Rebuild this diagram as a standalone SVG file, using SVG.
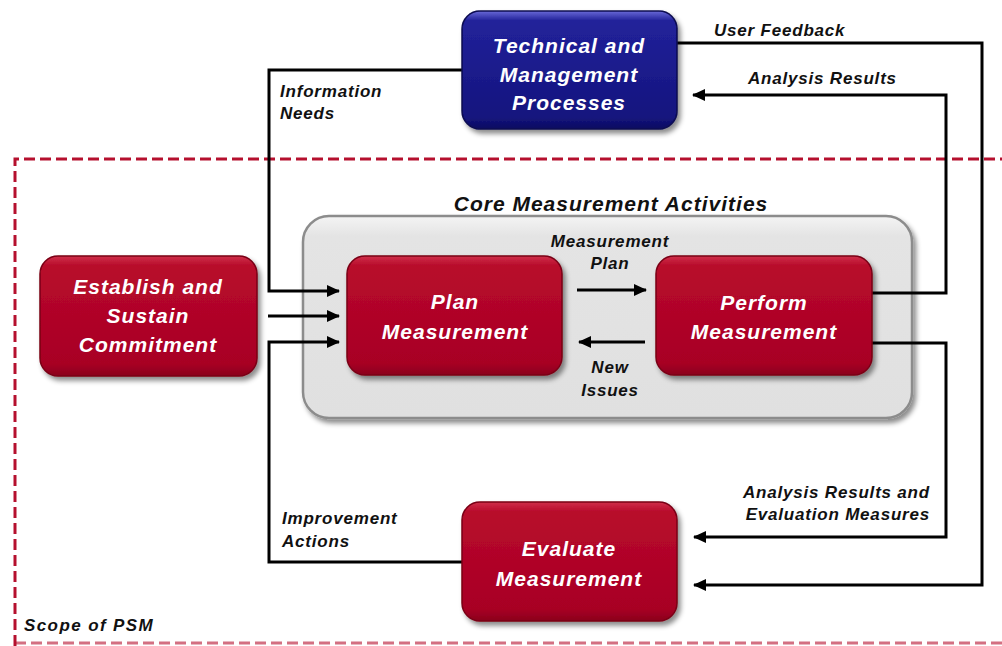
<svg xmlns="http://www.w3.org/2000/svg" width="1002" height="646" viewBox="0 0 1002 646">
  <defs>
    <linearGradient id="redFill" x1="0" y1="0" x2="0" y2="1">
      <stop offset="0" stop-color="#d0324a"/>
      <stop offset="0.08" stop-color="#b80a2c"/>
      <stop offset="0.9" stop-color="#a80024"/>
      <stop offset="1" stop-color="#8a001c"/>
    </linearGradient>
    <linearGradient id="blueFill" x1="0" y1="0" x2="0" y2="1">
      <stop offset="0" stop-color="#6a6ad8"/>
      <stop offset="0.08" stop-color="#22229a"/>
      <stop offset="0.9" stop-color="#14147e"/>
      <stop offset="1" stop-color="#0c0c60"/>
    </linearGradient>
    <linearGradient id="greyFill" x1="0" y1="0" x2="0" y2="1">
      <stop offset="0" stop-color="#f4f4f4"/>
      <stop offset="0.1" stop-color="#e4e4e4"/>
      <stop offset="1" stop-color="#e0e0e0"/>
    </linearGradient>
    <filter id="shadow" x="-10%" y="-10%" width="125%" height="130%">
      <feDropShadow dx="3" dy="4" stdDeviation="2.5" flood-color="#000" flood-opacity="0.45"/>
    </filter>
    <marker id="arrow" markerUnits="userSpaceOnUse" markerWidth="13" markerHeight="12" refX="12" refY="6" orient="auto">
      <path d="M0,0 L13,6 L0,12 Z" fill="#000"/>
    </marker>
    <style>
      .box-red { fill: url(#redFill); stroke: #7a0016; stroke-width: 1.5; filter: url(#shadow); }
      .box-blue { fill: url(#blueFill); stroke: #0a0a50; stroke-width: 1.5; filter: url(#shadow); }
      .core { fill: url(#greyFill); stroke: #8c8c8c; stroke-width: 2.5; filter: url(#shadow); }
      .box-text { font-family: "Liberation Sans", Arial, sans-serif; font-style: italic; font-weight: bold; font-size: 21px; fill: #fff; text-anchor: middle; letter-spacing: 1px; }
      .label { font-family: "Liberation Sans", Arial, sans-serif; font-style: italic; font-weight: bold; font-size: 17px; fill: #111; letter-spacing: 0.8px; }
      .title { font-family: "Liberation Sans", Arial, sans-serif; font-style: italic; font-weight: bold; font-size: 21px; fill: #111; text-anchor: middle; letter-spacing: 1px; }
      .conn { fill: none; stroke: #000; stroke-width: 3; }
      .scope { fill: none; stroke: #b5102e; stroke-width: 3; stroke-dasharray: 11 5; }
    </style>
  </defs>

  <rect width="1002" height="646" fill="#fff"/>

  <!-- PSM scope boundary -->
  <g id="scope">
    <path class="scope" d="M15,646 V159 H1002"/>
    <path class="scope" d="M15,643 H1002" opacity="0.6"/>
    <text class="label" x="24" y="631" style="letter-spacing:1.4px">Scope of PSM</text>
  </g>

  <!-- Core activities container -->
  <g id="core">
    <rect class="core" x="303" y="216" width="609" height="202" rx="26"/>
    <text class="title" x="611" y="211">Core Measurement Activities</text>
  </g>

  <!-- Connectors -->
  <g id="connectors">
    <path class="conn" d="M462,70 H269 V291 H339" marker-end="url(#arrow)"/>
    <path class="conn" d="M268,316 H339" marker-end="url(#arrow)"/>
    <path class="conn" d="M462,562 H269 V342 H339" marker-end="url(#arrow)"/>
    <path class="conn" d="M577,290 H646" marker-end="url(#arrow)"/>
    <path class="conn" d="M645,342 H579" marker-end="url(#arrow)"/>
    <path class="conn" d="M872,293 H946 V95 H693" marker-end="url(#arrow)"/>
    <path class="conn" d="M677,43 H982 V585 H694" marker-end="url(#arrow)"/>
    <path class="conn" d="M872,343 H946 V537 H694" marker-end="url(#arrow)"/>

    <text class="label" x="714" y="36">User Feedback</text>
    <text class="label" x="748" y="84">Analysis Results</text>
    <text class="label" x="280" y="97">Information</text>
    <text class="label" x="280" y="119">Needs</text>
    <text class="label" x="610" y="247" text-anchor="middle">Measurement</text>
    <text class="label" x="610" y="269" text-anchor="middle">Plan</text>
    <text class="label" x="610" y="373" text-anchor="middle">New</text>
    <text class="label" x="610" y="396" text-anchor="middle">Issues</text>
    <text class="label" x="282" y="524">Improvement</text>
    <text class="label" x="282" y="547">Actions</text>
    <text class="label" x="930" y="498" text-anchor="end">Analysis Results and</text>
    <text class="label" x="930" y="520" text-anchor="end">Evaluation Measures</text>
  </g>

  <!-- Nodes -->
  <g id="technical-management">
    <rect class="box-blue" x="462" y="11" width="215" height="118" rx="18"/>
    <text class="box-text" x="569" y="53">Technical and</text>
    <text class="box-text" x="569" y="82">Management</text>
    <text class="box-text" x="569" y="110">Processes</text>
  </g>

  <g id="establish-commitment">
    <rect class="box-red" x="40" y="256" width="217" height="120" rx="18"/>
    <text class="box-text" x="148" y="294">Establish and</text>
    <text class="box-text" x="148" y="323">Sustain</text>
    <text class="box-text" x="148" y="352">Commitment</text>
  </g>

  <g id="plan-measurement">
    <rect class="box-red" x="347" y="256" width="215" height="119" rx="18"/>
    <text class="box-text" x="455" y="309">Plan</text>
    <text class="box-text" x="455" y="339">Measurement</text>
  </g>

  <g id="perform-measurement">
    <rect class="box-red" x="656" y="256" width="216" height="119" rx="18"/>
    <text class="box-text" x="764" y="310">Perform</text>
    <text class="box-text" x="764" y="339">Measurement</text>
  </g>

  <g id="evaluate-measurement">
    <rect class="box-red" x="462" y="502" width="215" height="119" rx="18"/>
    <text class="box-text" x="569" y="556">Evaluate</text>
    <text class="box-text" x="569" y="586">Measurement</text>
  </g>
</svg>
